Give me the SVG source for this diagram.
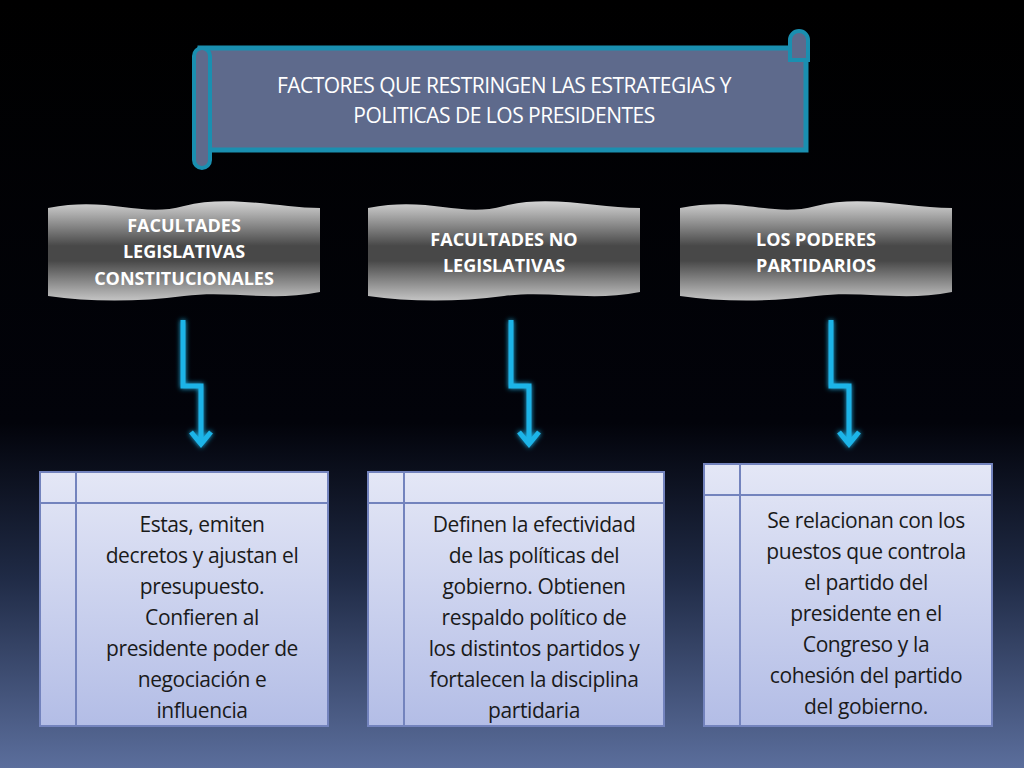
<svg xmlns="http://www.w3.org/2000/svg" width="1024" height="768" viewBox="0 0 1024 768">
<defs>
<linearGradient id="bg" x1="0" y1="0" x2="0" y2="1"><stop offset="0" stop-color="#000"/><stop offset="0.55" stop-color="#02030a"/><stop offset="0.75" stop-color="#1f2a45"/><stop offset="1" stop-color="#5b6e9c"/></linearGradient>
<linearGradient id="ban" x1="0" y1="0" x2="0" y2="1"><stop offset="0" stop-color="#d4d4d4"/><stop offset="0.45" stop-color="#484848"/><stop offset="0.6" stop-color="#484848"/><stop offset="1" stop-color="#c4c4c4"/></linearGradient>
<linearGradient id="box" x1="0" y1="0" x2="0" y2="1"><stop offset="0" stop-color="#e4e7f6"/><stop offset="1" stop-color="#b3bde6"/></linearGradient>
<filter id="glow" x="-50%" y="-20%" width="200%" height="140%"><feGaussianBlur stdDeviation="2.5" result="b"/><feMerge><feMergeNode in="b"/><feMergeNode in="SourceGraphic"/></feMerge></filter>
</defs>
<style>
.bt{font-family:"Open Sans","Noto Sans",sans-serif;font-weight:bold;font-size:18px;fill:#fff;text-anchor:middle}
.tx{font-family:"Open Sans","Noto Sans",sans-serif;font-size:21px;fill:#1a1a1a;text-anchor:middle;letter-spacing:-0.4px}
.bx{fill:url(#box);stroke:#7383bd;stroke-width:2}
.ln{stroke:#7383bd;stroke-width:2}
.ar{fill:none;stroke:#1fb4e8;stroke-width:5;filter:url(#glow)}
</style>
<rect width="1024" height="768" fill="url(#bg)"/>
<g id="title">
<path d="M200,48 H806 V150 H200 Z" fill="#5e6a8c" stroke="#1a8fb0" stroke-width="5"/>
<path d="M194,56 a8,8 0 0 1 16,0 V160 a8,8 0 0 1 -16,0 Z" fill="#5e6a8c" stroke="#1a8fb0" stroke-width="4"/>
<path d="M790,40 a9,9 0 0 1 18,0 V60 H790 Z" fill="#5e6a8c" stroke="#1a8fb0" stroke-width="4"/>
<text x="504" y="93" font-family="Open Sans,Noto Sans,sans-serif" font-size="21" fill="#fff" text-anchor="middle" letter-spacing="-0.5">FACTORES QUE RESTRINGEN LAS ESTRATEGIAS Y</text>
<text x="504" y="123" font-family="Open Sans,Noto Sans,sans-serif" font-size="21" fill="#fff" text-anchor="middle" letter-spacing="-0.5">POLITICAS DE  LOS PRESIDENTES</text>
</g>
<g id="b1"><path d="M48,208 C110,196 140,218 184,206 S280,208 320,208 V292 C270,302 230,290 184,296 S90,302 48,296 Z" fill="url(#ban)"/>
<text class="bt" x="184" y="232">FACULTADES</text><text class="bt" x="184" y="258">LEGISLATIVAS</text><text class="bt" x="184" y="285">CONSTITUCIONALES</text></g>
<g id="b2"><path d="M368,208 C430,196 460,218 504,206 S600,208 640,208 V292 C590,302 550,290 504,296 S410,302 368,296 Z" fill="url(#ban)"/>
<text class="bt" x="504" y="246">FACULTADES NO</text><text class="bt" x="504" y="272">LEGISLATIVAS</text></g>
<g id="b3"><path d="M680,208 C742,196 772,218 816,206 S912,208 952,208 V292 C902,302 862,290 816,296 S722,302 680,296 Z" fill="url(#ban)"/>
<text class="bt" x="816" y="246">LOS PODERES</text><text class="bt" x="816" y="272">PARTIDARIOS</text></g>
<g id="connectors">
<path class="ar" d="M183,320 V386 H201 V444 M191,432 L201,444 L211,432"/>
<path class="ar" d="M511,320 V386 H529 V444 M519,432 L529,444 L539,432"/>
<path class="ar" d="M831,320 V386 H849 V444 M839,432 L849,444 L859,432"/>
</g>
<g id="n1"><rect class="bx" x="40" y="472" width="288" height="254"/><line class="ln" x1="76" y1="472" x2="76" y2="726"/><line class="ln" x1="40" y1="503" x2="328" y2="503"/>
<text class="tx"><tspan x="202" y="532">Estas, emiten</tspan><tspan x="202" y="563">decretos y ajustan el</tspan><tspan x="202" y="594">presupuesto.</tspan><tspan x="202" y="625">Confieren al</tspan><tspan x="202" y="656">presidente poder de</tspan><tspan x="202" y="687">negociación  e</tspan><tspan x="202" y="718">influencia</tspan></text></g>
<g id="n2"><rect class="bx" x="368" y="472" width="296" height="254"/><line class="ln" x1="404" y1="472" x2="404" y2="726"/><line class="ln" x1="368" y1="503" x2="664" y2="503"/>
<text class="tx"><tspan x="534" y="532">Definen la efectividad</tspan><tspan x="534" y="563">de las políticas del</tspan><tspan x="534" y="594">gobierno. Obtienen</tspan><tspan x="534" y="625">respaldo político  de</tspan><tspan x="534" y="656">los distintos partidos y</tspan><tspan x="534" y="687">fortalecen la disciplina</tspan><tspan x="534" y="718">partidaria</tspan></text></g>
<g id="n3"><rect class="bx" x="704" y="464" width="288" height="262"/><line class="ln" x1="740" y1="464" x2="740" y2="726"/><line class="ln" x1="704" y1="495" x2="992" y2="495"/>
<text class="tx"><tspan x="866" y="528">Se relacionan con los</tspan><tspan x="866" y="559">puestos que controla</tspan><tspan x="866" y="590">el partido del</tspan><tspan x="866" y="621">presidente en el</tspan><tspan x="866" y="652">Congreso y la</tspan><tspan x="866" y="683">cohesión del partido</tspan><tspan x="866" y="714">del gobierno.</tspan></text></g>
</svg>
